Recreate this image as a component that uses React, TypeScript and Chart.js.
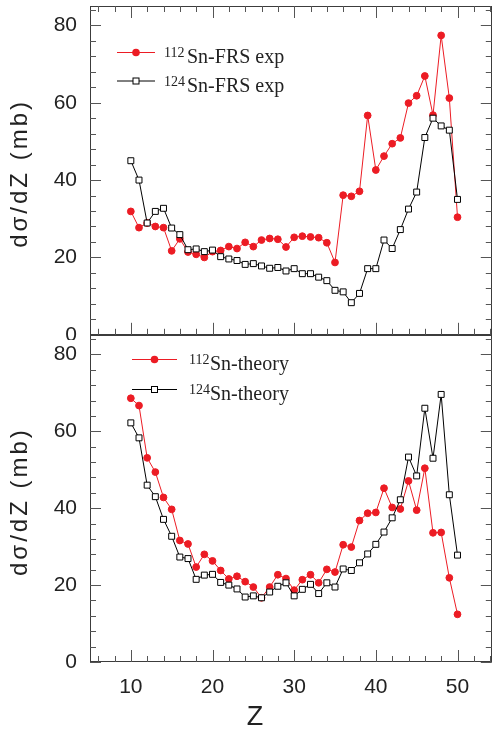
import React, { useEffect, useRef } from 'react';
import { Chart, registerables } from 'chart.js';

Chart.register(...registerables);

// ---------------- data ----------------
const Z = [10, 11, 12, 13, 14, 15, 16, 17, 18, 19, 20, 21, 22, 23, 24, 25, 26, 27, 28, 29, 30,
  31, 32, 33, 34, 35, 36, 37, 38, 39, 40, 41, 42, 43, 44, 45, 46, 47, 48, 49, 50];

const sn112FrsExp = [31.9, 27.7, 28.9, 28.0, 27.7, 21.7, 24.8, 21.4, 20.8, 20.0, 21.5, 21.8, 22.8, 22.3,
  23.9, 22.8, 24.5, 24.9, 24.7, 22.7, 25.2, 25.5, 25.3, 25.1, 23.8, 18.7, 36.1, 35.8, 37.1, 56.7, 42.6,
  46.2, 49.4, 50.9, 59.9, 61.8, 66.9, 56.8, 77.4, 61.2, 30.4];

const sn124FrsExp = [45.0, 40.0, 28.9, 31.9, 32.7, 27.6, 25.9, 22.0, 22.2, 21.5, 21.9, 20.2, 19.6, 19.2,
  18.2, 18.4, 17.8, 17.2, 17.4, 16.5, 17.1, 15.8, 15.8, 14.9, 14.0, 11.5, 11.1, 8.3, 10.7, 17.1, 17.1,
  24.5, 22.3, 27.2, 32.5, 36.9, 51.0, 56.0, 54.0, 52.9, 35.0];

const sn112Theory = [68.6, 66.7, 53.1, 49.4, 42.8, 39.7, 31.6, 30.7, 24.7, 28.0, 26.3, 23.8, 21.6, 22.3,
  20.9, 19.5, 16.7, 19.5, 22.7, 21.7, 18.7, 21.4, 22.7, 20.6, 24.1, 23.4, 30.5, 29.9, 36.8, 38.7, 38.9,
  45.2, 40.2, 39.8, 47.1, 39.5, 50.4, 33.6, 33.7, 21.9, 12.4];

const sn124Theory = [62.2, 58.3, 46.0, 43.0, 37.1, 32.7, 27.3, 26.9, 21.5, 22.6, 22.8, 20.7, 20.0, 19.0,
  16.9, 17.2, 16.7, 18.2, 19.7, 20.6, 17.2, 18.9, 20.2, 17.8, 20.6, 19.5, 24.2, 23.8, 25.8, 28.1, 30.6,
  33.8, 37.5, 42.2, 53.3, 48.4, 66.0, 53.0, 69.6, 43.5, 27.8];

const xTickLabels = [10, 20, 30, 40, 50];
const yTickLabels = [0, 20, 40, 60, 80];
const topLegend = [{ sup: '112', text: 'Sn-FRS exp' }, { sup: '124', text: 'Sn-FRS exp' }];
const bottomLegend = [{ sup: '112', text: 'Sn-theory' }, { sup: '124', text: 'Sn-theory' }];
const yTitle = 'dσ/dZ (mb)';
const xTitle = 'Z';

// ---------------- style ----------------
const RED = 'rgb(236,28,36)';
const INK = '#222';
const FRAME = '#3c3c3c';
const SANS = "'Liberation Sans', Arial, sans-serif";
const SERIF = "'Liberation Serif', 'Times New Roman', serif";

type LegendItem = { sup: string; text: string; kind: 'circle' | 'rect'; color: string };
type PanelCfg = {
  legend: LegendItem[];
  legendX1: number; legendX2: number; legendY: number; legendGap: number;
  supX: number; textX: number;
  topTicks: boolean;
  xTitlePos?: { x: number; y: number };
};

function toPoints(ys: number[]) {
  return Z.map((z, i) => ({ x: z, y: ys[i] }));
}

function drawMarker(ctx: CanvasRenderingContext2D, kind: 'circle' | 'rect', color: string, x: number, y: number) {
  ctx.save();
  if (kind === 'circle') {
    ctx.beginPath();
    ctx.arc(x, y, 3.8, 0, Math.PI * 2);
    ctx.fillStyle = color;
    ctx.fill();
  } else {
    ctx.fillStyle = '#fff';
    ctx.strokeStyle = color;
    ctx.lineWidth = 1;
    ctx.fillRect(x - 3, y - 3, 6, 6);
    ctx.strokeRect(x - 3, y - 3, 6, 6);
  }
  ctx.restore();
}

function makePlugin(cfg: PanelCfg) {
  return {
    id: 'panelDecor',
    afterDraw(chart: any) {
      const ctx: CanvasRenderingContext2D = chart.ctx;
      const a = chart.chartArea;
      const xs = chart.scales.x;
      const ys = chart.scales.y;
      ctx.save();
      // frame
      ctx.strokeStyle = FRAME;
      ctx.lineWidth = 1;
      ctx.strokeRect(Math.round(a.left) + 0.5, Math.round(a.top) + 0.5,
        Math.round(a.right - a.left) - 1, Math.round(a.bottom - a.top) - 1);
      // inward ticks
      ctx.strokeStyle = '#555';
      ctx.beginPath();
      for (let v = 6; v <= 54; v += 2) {
        const px = Math.round(xs.getPixelForValue(v)) + 0.5;
        const len = v % 10 === 0 ? 12 : 6;
        ctx.moveTo(px, a.bottom);
        ctx.lineTo(px, a.bottom - len);
        if (cfg.topTicks) {
          ctx.moveTo(px, a.top);
          ctx.lineTo(px, a.top + len);
        }
      }
      for (let v = 0; v <= 84; v += 4) {
        const py = Math.round(ys.getPixelForValue(v)) + 0.5;
        const len = v % 20 === 0 ? 11 : 6;
        ctx.moveTo(a.left, py);
        ctx.lineTo(a.left + len, py);
        ctx.moveTo(a.right, py);
        ctx.lineTo(a.right - len, py);
      }
      ctx.stroke();

      // legend
      cfg.legend.forEach((it, i) => {
        const y = cfg.legendY + i * cfg.legendGap;
        ctx.strokeStyle = it.color;
        ctx.lineWidth = 1;
        ctx.beginPath();
        ctx.moveTo(cfg.legendX1, y + 0.5);
        ctx.lineTo(cfg.legendX2, y + 0.5);
        ctx.stroke();
        drawMarker(ctx, it.kind, it.color, (cfg.legendX1 + cfg.legendX2) / 2, y + 0.5);
        ctx.fillStyle = INK;
        ctx.textAlign = 'left';
        ctx.textBaseline = 'alphabetic';
        ctx.font = `14px ${SERIF}`;
        ctx.fillText(it.sup, cfg.supX, y + 5);
        ctx.font = `20px ${SERIF}`;
        ctx.fillText(it.text, cfg.textX, y + 11);
      });

      // y title
      ctx.save();
      ctx.translate(20, (a.top + a.bottom) / 2 + 3);
      ctx.rotate(-Math.PI / 2);
      ctx.fillStyle = INK;
      ctx.font = `24px ${SANS}`;
      ctx.textAlign = 'center';
      ctx.textBaseline = 'middle';
      try { (ctx as any).letterSpacing = '3px'; } catch (e) { /* ignore */ }
      ctx.fillText(yTitle, 0, 0);
      ctx.restore();

      if (cfg.xTitlePos) {
        ctx.fillStyle = INK;
        ctx.font = `27px ${SANS}`;
        ctx.textAlign = 'center';
        ctx.textBaseline = 'middle';
        ctx.fillText(xTitle, cfg.xTitlePos.x, cfg.xTitlePos.y);
      }
      ctx.restore();
    },
  };
}

function buildChart(canvas: HTMLCanvasElement, data: { a: number[]; b: number[] }, cfg: PanelCfg,
  showXLabels: boolean, padTop: number, xHeight: number) {
  const tickFont = { family: SANS, size: 21 };
  const zeroPad = (s: any) => {
    s.paddingTop = 0; s.paddingBottom = 0; s.paddingLeft = 0; s.paddingRight = 0;
  };
  return new Chart(canvas, {
    type: 'line',
    data: {
      datasets: [
        {
          data: toPoints(data.b),
          borderColor: '#000',
          borderWidth: 1,
          pointStyle: 'rect',
          pointRadius: 4.2,
          pointBorderWidth: 1,
          pointBackgroundColor: '#fff',
          pointBorderColor: '#000',
          tension: 0,
        },
        {
          data: toPoints(data.a),
          borderColor: RED,
          borderWidth: 1,
          pointStyle: 'circle',
          pointRadius: 3.4,
          pointBorderWidth: 1,
          pointBackgroundColor: RED,
          pointBorderColor: RED,
          tension: 0,
        },
      ],
    },
    options: {
      responsive: false,
      animation: false,
      layout: { padding: { top: padTop, right: 5, left: 0, bottom: 0 } },
      plugins: { legend: { display: false }, tooltip: { enabled: false } },
      scales: {
        x: {
          type: 'linear',
          min: 5,
          max: 54.2,
          afterBuildTicks: (s: any) => { s.ticks = xTickLabels.map((v) => ({ value: v })); },
          ticks: { display: showXLabels, font: tickFont, color: INK, padding: 13, maxRotation: 0 },
          grid: { display: false, drawTicks: false },
          border: { display: false },
          afterFit: (s: any) => { s.height = xHeight; zeroPad(s); },
        },
        y: {
          type: 'linear',
          min: 0,
          max: 85,
          afterBuildTicks: (s: any) => { s.ticks = yTickLabels.map((v) => ({ value: v })); },
          ticks: { font: tickFont, color: INK, padding: 13 },
          grid: { display: false, drawTicks: false },
          border: { display: false },
          afterFit: (s: any) => { s.width = 90; zeroPad(s); },
        },
      },
    },
    plugins: [makePlugin(cfg)],
  } as any);
}

export default function App() {
  const topRef = useRef<HTMLCanvasElement>(null);
  const botRef = useRef<HTMLCanvasElement>(null);

  useEffect(() => {
    const top = buildChart(topRef.current!, { a: sn112FrsExp, b: sn124FrsExp }, {
      legend: [
        { ...topLegend[0], kind: 'circle', color: RED },
        { ...topLegend[1], kind: 'rect', color: '#000' },
      ],
      legendX1: 117, legendX2: 155, legendY: 52, legendGap: 28.5,
      supX: 164, textX: 187,
      topTicks: true,
    }, false, 6, 5);
    const bot = buildChart(botRef.current!, { a: sn112Theory, b: sn124Theory }, {
      legend: [
        { ...bottomLegend[0], kind: 'circle', color: RED },
        { ...bottomLegend[1], kind: 'rect', color: '#000' },
      ],
      legendX1: 132, legendX2: 177, legendY: 29, legendGap: 30,
      supX: 189, textX: 210,
      topTicks: false,
      xTitlePos: { x: 255, y: 388 },
    }, true, 5, 69);
    return () => { top.destroy(); bot.destroy(); };
  }, []);

  return (
    <div style={{ position: 'absolute', left: 0, top: 0, width: 497, height: 731, background: '#fff' }}>
      <canvas ref={topRef} width={497} height={340} style={{ position: 'absolute', left: 0, top: 0 }} />
      <canvas ref={botRef} width={497} height={401} style={{ position: 'absolute', left: 0, top: 330 }} />
    </div>
  );
}
